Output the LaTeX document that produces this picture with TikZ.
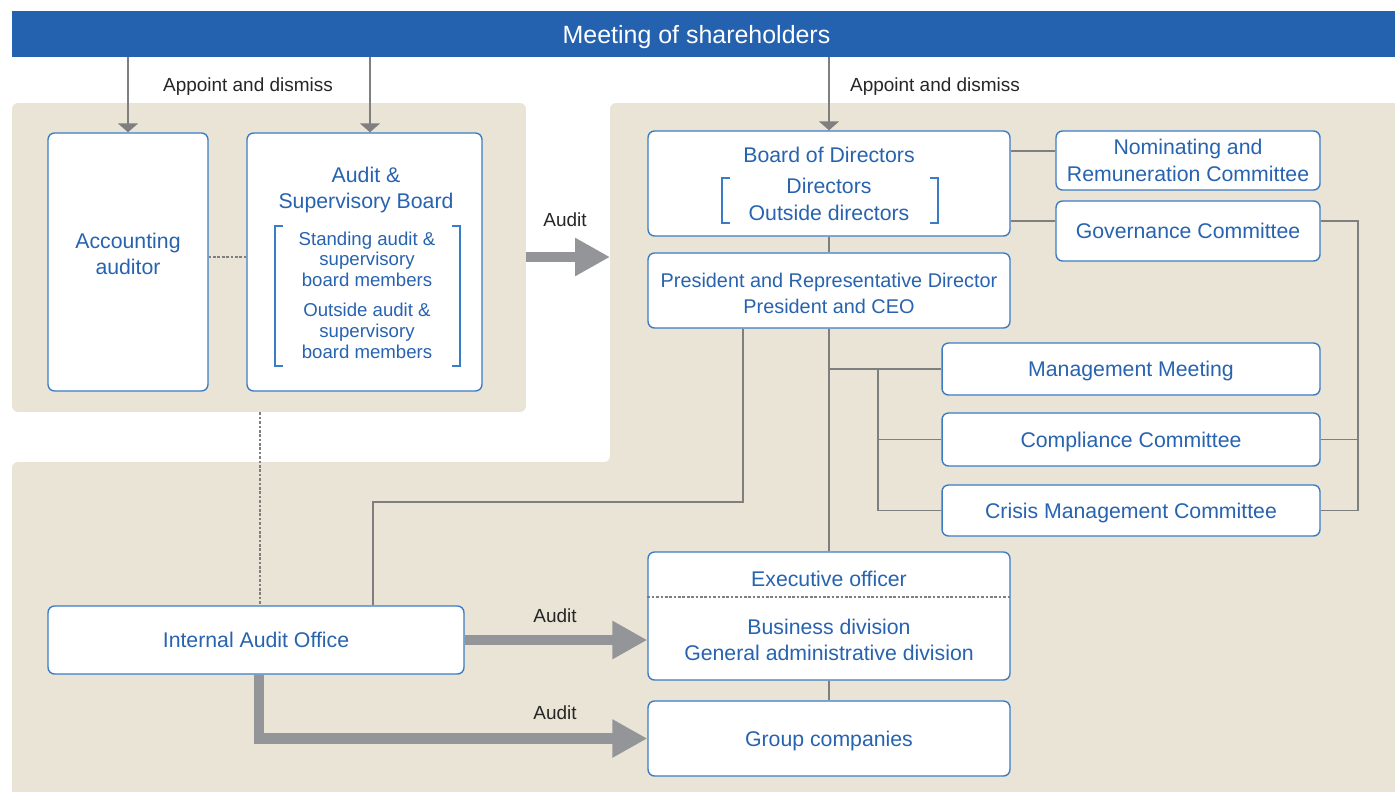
\documentclass[tikz,border=0pt]{standalone}
\usepackage{fontspec}
\setmainfont{Liberation Sans}
\usetikzlibrary{arrows.meta}
\definecolor{barblue}{HTML}{2462AF}
\definecolor{boxblue}{HTML}{3A7CC6}
\definecolor{inkblue}{HTML}{2763AF}
\definecolor{panelbeige}{HTML}{EAE4D6}
\definecolor{linkgray}{HTML}{7F7F7F}
\definecolor{arrowgray}{HTML}{939598}
\begin{document}
\begin{tikzpicture}[x=0.02cm, y=-0.02cm]
            \tikzstyle{panel}=[fill=panelbeige, rounded corners=0.12cm]
            \tikzstyle{unit}=[draw=boxblue, fill=white, line width=0.8pt, rounded corners=0.13cm, text=inkblue, align=center, inner sep=0pt, font=\fontsize{12.1}{15}\selectfont]
            \tikzstyle{flat}=[text depth=0pt]
            \tikzstyle{caption}=[text=inkblue, align=center, inner sep=0pt, font=\fontsize{12.1}{15}\selectfont]
            \tikzstyle{member}=[text=inkblue, align=center, inner sep=0pt, font=\fontsize{10.6}{11.9}\selectfont]
            \tikzstyle{note}=[text=black!85, inner sep=0pt, font=\fontsize{10.8}{13}\selectfont]
            \tikzstyle{link}=[linkgray, line width=0.8pt]
            \tikzstyle{appoint}=[linkgray, line width=0.8pt, -{Triangle[length=0.18cm, width=0.4cm]}]
            \tikzstyle{dotlink}=[linkgray, line width=0.6pt, dash pattern=on 1.5pt off 1pt]
            \tikzstyle{auditflow}=[arrowgray, line width=6.2pt, line join=miter, -{Triangle[length=0.7cm, width=0.72cm]}]
            \tikzstyle{bracket}=[boxblue, line width=0.6pt]
            \useasboundingbox (0,0) rectangle (1395,791);
            \fill [panel] (12,820) -- (12,462) -- (610,462) -- (610,103) -- (1420,103) -- (1420,820) -- cycle;
            \node [panel, minimum width=10.28cm, minimum height=6.18cm] (lpanel) at (269,257.5) {};
            \node [fill=barblue, text=white, text depth=0pt, minimum width=27.66cm, minimum height=0.92cm, font=\fontsize{14.2}{17}\selectfont] (agm) at (703.5,34) {Meeting of shareholders\hspace*{0.28cm}};
            \node [note] (appointl) at (248,86.5) {Appoint and dismiss};
            \node [note] (appointr) at (935,86.5) {Appoint and dismiss};
            \node [unit, minimum width=3.2cm, minimum height=5.16cm] (acc) at (128,262) {};
            \node [caption] (acctext) at (128,254) {Accounting\\auditor};
            \node [unit, minimum width=4.7cm, minimum height=5.16cm] (asb) at (364.5,262) {};
            \node [caption] (asbhead) at (366,190) {Audit \&\\Supervisory Board};
            \node [member] (asbmem) at (367,295) {Standing audit \&\\supervisory\\board members\\[5pt]Outside audit \&\\supervisory\\board members};
            \draw [bracket] (283,226) -- (275,226) -- (275,366) -- (283,366);
            \draw [bracket] (452,226) -- (460,226) -- (460,366) -- (452,366);
            \node [unit, minimum width=7.24cm, minimum height=2.1cm] (bod) at (829,183.5) {Board of Directors\\[3pt]Directors\\Outside directors};
            \draw [bracket] (730,178) -- (722,178) -- (722,223) -- (730,223);
            \draw [bracket] (930,178) -- (938,178) -- (938,223) -- (930,223);
            \node [unit, minimum width=5.28cm, minimum height=1.18cm] (nom) at (1188,160.5) {Nominating and\\Remuneration Committee};
            \node [unit, flat, minimum width=5.28cm, minimum height=1.2cm] (gov) at (1188,231) {Governance Committee};
            \node [unit, minimum width=7.24cm, minimum height=1.5cm] (pres) at (829,290.5) {};
            \node [caption, font=\fontsize{11.3}{14.7}\selectfont] (prestext) at (829,293.5) {President and Representative Director\\President and CEO};
            \node [unit, flat, minimum width=7.56cm, minimum height=1.04cm] (mgmt) at (1131,369) {Management Meeting};
            \node [unit, flat, minimum width=7.56cm, minimum height=1.06cm] (comp) at (1131,439.5) {Compliance Committee};
            \node [unit, flat, minimum width=7.56cm, minimum height=1.02cm] (crisis) at (1131,510.5) {Crisis Management Committee};
            \node [unit, minimum width=7.24cm, minimum height=2.56cm] (exec) at (829,616) {Executive officer\\[12pt]Business division\\General administrative division};
            \node [unit, flat, minimum width=7.24cm, minimum height=1.5cm] (grp) at (829,738.5) {Group companies};
            \node [unit, flat, minimum width=8.32cm, minimum height=1.36cm] (iao) at (256,640) {Internal Audit Office};
            \coordinate (execsep) at (829,597);
            \draw [dotlink] (exec.west |- execsep) -- (exec.east |- execsep);
            \coordinate (asbin) at ([xshift=0.11cm]asb.north);
            \draw [appoint] (agm.south -| acc.north) -- (acc.north);
            \draw [appoint] (agm.south -| asbin) -- (asbin);
            \draw [appoint] (agm.south -| bod.north) -- (bod.north);
            \draw [dotlink] ([yshift=0.1cm]acc.east) -- ([yshift=0.1cm]asb.west);
            \coordinate (dotx) at (260,0);
            \draw [dotlink] (lpanel.south -| dotx) -- (iao.north -| dotx);
            \coordinate (auditin) at (610,257);
            \draw [auditflow] (lpanel.east |- auditin) -- (auditin);
            \node [note] (audittop) at (565,220) {Audit};
            \coordinate (nomlink) at ([yshift=0.65cm]bod.east);
            \draw [link] (nomlink) -- (nomlink -| nom.west);
            \coordinate (govlink) at ([yshift=-0.75cm]bod.east);
            \draw [link] (govlink) -- (govlink -| gov.west);
            \coordinate (rbus) at (1358,0);
            \draw [link] (govlink -| gov.east) -| (rbus |- crisis.east) -- (crisis.east);
            \draw [link] (comp.east) -- (comp.east -| rbus);
            \draw [link] (bod.south) -- (pres.north);
            \draw [link] (pres.south) -- (exec.north);
            \coordinate (mbus) at (878,0);
            \draw [link] (pres.south |- mgmt.west) -- (mgmt.west);
            \draw [link] (mbus |- mgmt.west) |- (crisis.west);
            \draw [link] (mbus |- comp.west) -- (comp.west);
            \draw [link] (exec.south) -- (grp.north);
            \coordinate (presout) at ([xshift=-1.72cm]pres.south);
            \coordinate (iaoin) at ([xshift=2.34cm]iao.north);
            \coordinate (crossy) at (0,502);
            \draw [link] (presout) |- (crossy -| iaoin) -- (iaoin);
            \draw [auditflow] (iao.east) -- (iao.east -| exec.west);
            \node [note] (auditmid) at (555,616) {Audit};
            \draw [auditflow] ([xshift=0.06cm]iao.south) |- (grp.west);
            \node [note] (auditlow) at (555,713) {Audit};
\end{tikzpicture}
\end{document}
